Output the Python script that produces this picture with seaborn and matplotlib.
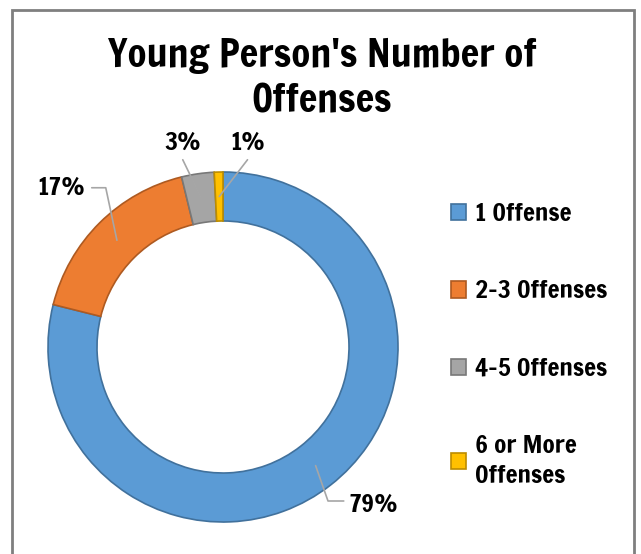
import numpy as np
import seaborn as sns
import matplotlib.pyplot as plt
from matplotlib.patches import Rectangle, Patch

# data
categories = ["1 Offense", "2-3 Offenses", "4-5 Offenses", "6 or More\nOffenses"]
shares = [78.9, 17.3, 3.0, 0.8]
pct_labels = ["79%", "17%", "3%", "1%"]
colors = ["#5B9BD5", "#ED7D31", "#A5A5A5", "#FFC000"]
edges = ["#41719C", "#AE5A21", "#787878", "#BC8C00"]

sns.set_theme(style="white")
plt.rcParams['font.family'] = ['Francois One', 'DejaVu Sans']

fig = plt.figure(figsize=(6.41, 5.54), dpi=100)
fig.patch.set_facecolor("white")

# grey frame around the chart
fig.add_artist(Rectangle((12 / 641, -0.05), (634 - 12) / 641, 1.05 - 10 / 554,
                         transform=fig.transFigure, fill=False,
                         edgecolor="#7F7F7F", linewidth=2))

ax = fig.add_axes([48 / 641, 32 / 554, 350 / 641, 350 / 554])
wedges, _ = ax.pie(shares, colors=colors, startangle=90, counterclock=False,
                   radius=1, wedgeprops=dict(width=0.28, linewidth=1.2))
for w, ec in zip(wedges, edges):
    w.set_edgecolor(ec)
ax.set_xlim(-1, 1)
ax.set_ylim(-1, 1)
ax.set_aspect("equal")
ax.axis("off")

# percent labels with leader lines
text_pos = [(0.72, -0.90), (-0.79, 0.91), (-0.23, 1.17), (0.14, 1.17)]
aligns = ["left", "right", "center", "center"]
cum = np.cumsum([0] + shares)
for i, (lab, (tx, ty), ha) in enumerate(zip(pct_labels, text_pos, aligns)):
    mid = np.deg2rad(90 - 3.6 * (cum[i] + cum[i + 1]) / 2)
    r = 0.86
    px, py = r * np.cos(mid), r * np.sin(mid)
    if i == 0:
        xs, ys = [px, tx - 0.12, tx - 0.03], [py, ty + 0.02, ty + 0.02]
    elif i == 1:
        xs, ys = [px, tx + 0.12, tx + 0.04], [py, ty, ty]
    else:
        xs, ys = [px, tx], [py, ty - 0.1]
    ax.plot(xs, ys, color="#A6A6A6", lw=1.2, clip_on=False)
    ax.text(tx, ty, lab, ha=ha, va="center", fontsize=18,
            color="black", clip_on=False)

fig.text(322 / 641, 1 - 56 / 554, "Young Person's Number of", ha="center", va="center",
         fontsize=28, color="black")
fig.text(322 / 641, 1 - 101 / 554, "Offenses", ha="center", va="center",
         fontsize=28, color="black")

handles = [Patch(facecolor=c, edgecolor=e, linewidth=1.2) for c, e in zip(colors, edges)]
leg = fig.legend(handles, categories, loc="upper left",
                 bbox_to_anchor=(428 / 641, 1 - 180 / 554), frameon=False,
                 prop=dict(size=18), labelspacing=2.2,
                 handlelength=0.62, handleheight=0.62, handletextpad=0.35)
for t in leg.get_texts():
    t.set_color("black")
    t.set_linespacing(1.4)

fig.savefig("out.png", dpi=100)
